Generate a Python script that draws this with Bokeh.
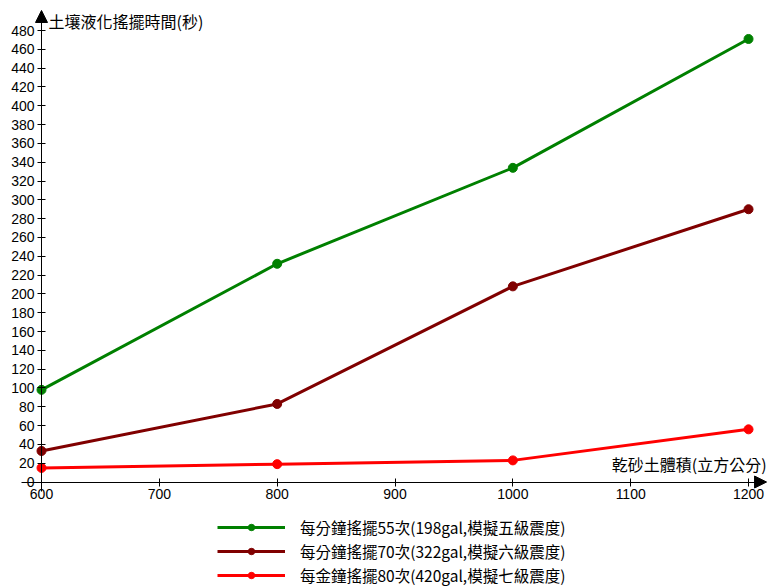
from bokeh.plotting import figure
from bokeh.models import (Range1d, FixedTicker, Legend, LegendItem, Label, Arrow,
                          NormalHead, ColumnDataSource)
from bokeh.embed import file_html
from bokeh.resources import INLINE

# ---- data ----
volumes = [600, 800, 1000, 1200]
series_names = [
    "每分鐘搖擺55次(198gal,模擬五級震度)",
    "每分鐘搖擺70次(322gal,模擬六級震度)",
    "每金鐘搖擺80次(420gal,模擬七級震度)",
]
s55 = [98, 232, 334, 471]
s70 = [33, 83, 208, 290]
s80 = [15, 19, 23, 56]
colors = ["#008000", "#800000", "#FF0000"]
x_ticks = [600, 700, 800, 900, 1000, 1100, 1200]
y_ticks = [0, 20, 40, 60, 80, 100, 120, 140, 160, 180, 200, 220, 240, 260,
           280, 300, 320, 340, 360, 380, 400, 420, 440, 460, 480]
y_title = "土壤液化搖擺時間(秒)"
x_title = "乾砂土體積(立方公分)"

# view window (whole canvas is the plot frame; axes sit at x=600 / y=0)
X_LO, X_HI = 565.2, 1216.1
Y_LO, Y_HI = -113.2, 511.9
X_ARROW_TIP, Y_ARROW_TIP = 1215.3, 501.3

p = figure(width=767, height=588, output_backend="svg", toolbar_location=None,
           x_range=Range1d(X_LO, X_HI), y_range=Range1d(Y_LO, Y_HI),
           min_border_left=0, min_border_right=0, min_border_top=0,
           min_border_bottom=0)
p.outline_line_color = None
p.xgrid.visible = False
p.ygrid.visible = False
p.background_fill_color = "white"
p.border_fill_color = "white"

p.xaxis.fixed_location = 0
p.yaxis.fixed_location = 600
p.xaxis.bounds = (583, 1210)
p.yaxis.bounds = (-10, 496)

for ax in (p.xaxis[0], p.yaxis[0]):
    ax.axis_line_color = "black"
    ax.axis_line_width = 1
    ax.major_tick_line_color = "black"
    ax.major_tick_in = 4
    ax.major_tick_out = 4
    ax.minor_tick_line_color = None
    ax.major_label_text_color = "black"
    ax.major_label_text_font = "Liberation Sans"
    ax.major_label_text_font_size = "14px"
    ax.major_label_standoff = 3

p.xaxis.ticker = FixedTicker(ticks=x_ticks)
p.yaxis.ticker = FixedTicker(ticks=y_ticks)

items = []
for name, ys, c in zip(series_names, [s55, s70, s80], colors):
    src = ColumnDataSource(dict(x=volumes, y=ys))
    lr = p.line("x", "y", source=src, line_color=c, line_width=3)
    sr = p.scatter("x", "y", source=src, marker="circle", size=9,
                   fill_color=c, line_color=c)
    items.append(LegendItem(label=name, renderers=[lr, sr]))

legend = Legend(items=items, location=(217, 2), orientation="vertical",
                border_line_color=None, background_fill_alpha=0,
                glyph_width=68, glyph_height=16, label_height=16,
                spacing=2, padding=0, margin=0, label_standoff=15,
                label_text_font="Noto Sans CJK TC", label_text_font_size="15.5px",
                label_text_color="black")
p.add_layout(legend)

# axis arrow heads
p.add_layout(Arrow(end=NormalHead(size=12, fill_color="black", line_color="black"),
                   x_start=600, y_start=480, x_end=600, y_end=Y_ARROW_TIP, line_alpha=0))
p.add_layout(Arrow(end=NormalHead(size=12, fill_color="black", line_color="black"),
                   x_start=1195, y_start=0, x_end=X_ARROW_TIP, y_end=0, line_alpha=0))

# axis titles
p.add_layout(Label(x=600, y=Y_ARROW_TIP, x_offset=7, y_offset=1, text=y_title,
                   text_baseline="top", text_align="left",
                   text_font="Noto Sans CJK TC", text_font_size="16px",
                   text_color="black"))
p.add_layout(Label(x=X_ARROW_TIP, y=0, x_offset=0, y_offset=6, text=x_title,
                   text_baseline="bottom", text_align="right",
                   text_font="Noto Sans CJK TC", text_font_size="16px",
                   text_color="black"))

open("out.html", "w").write(file_html(p, INLINE))
